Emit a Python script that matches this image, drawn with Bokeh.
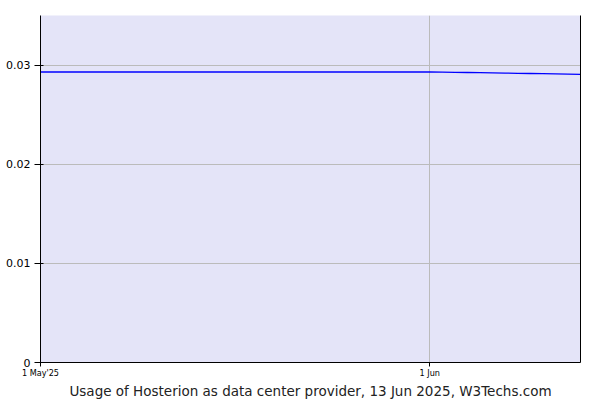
import datetime as dt
from bokeh.plotting import figure
from bokeh.models import FixedTicker, LinearAxis, Title, Range1d
from bokeh.embed import file_html
from bokeh.resources import INLINE

# data (share of websites, fraction)
dates = [dt.datetime(2025, 5, d) for d in range(1, 32)] + [dt.datetime(2025, 6, d) for d in range(1, 14)]
usage = [0.0293] * 31 + [0.0293, 0.02929, 0.02927, 0.02925, 0.02923, 0.02921, 0.02919,
                         0.02917, 0.02915, 0.02913, 0.02911, 0.02909, 0.02907]
y_ticks = [0, 0.01, 0.02, 0.03]
y_tick_labels = ["0", "0.01", "0.02", "0.03"]
x_tick_dates = [dt.datetime(2025, 5, 1), dt.datetime(2025, 6, 1)]
x_tick_labels = ["1 May'25", "1 Jun"]
title_text = "Usage of Hosterion as data center provider, 13 Jun 2025, W3Techs.com"

def ms(d):
    return (d - dt.datetime(1970, 1, 1)).total_seconds() * 1000.0

p = figure(width=600, height=400, output_backend="svg", toolbar_location=None,
           x_axis_type="datetime",
           x_range=Range1d(ms(dates[0]), ms(dates[-1])),
           y_range=Range1d(0, 0.035),
           min_border_left=40, min_border_right=20, min_border_top=15, min_border_bottom=38)
p.background_fill_color = "#e4e4f8"
p.border_fill_color = "white"
p.outline_line_color = None

p.line(dates, usage, line_color="#0000ff", line_width=1.3)

FONT = "DejaVu Sans"
xticks_ms = [ms(d) for d in x_tick_dates]

p.xaxis.ticker = FixedTicker(ticks=xticks_ms)
p.xaxis.major_label_overrides = {t: l for t, l in zip(xticks_ms, x_tick_labels)}
p.xaxis.major_label_text_font = "DejaVu Sans Condensed"
p.xaxis.major_label_text_font_size = "9px"
p.xaxis.major_label_text_color = "black"
p.xaxis.major_label_standoff = 1
p.xaxis.major_tick_out = 4
p.xaxis.major_tick_in = 0
p.xaxis.minor_tick_line_color = None
p.xaxis.axis_line_color = "black"
p.xaxis.major_tick_line_color = "black"

p.yaxis.ticker = FixedTicker(ticks=y_ticks)
p.yaxis.major_label_overrides = {t: l for t, l in zip(y_ticks, y_tick_labels)}
p.yaxis.major_label_text_font = FONT
p.yaxis.major_label_text_font_size = "11px"
p.yaxis.major_label_text_color = "black"
p.yaxis.major_label_standoff = 4
p.yaxis.major_tick_out = 6
p.yaxis.major_tick_in = 3
p.yaxis.minor_tick_line_color = None
p.yaxis.axis_line_color = "black"
p.yaxis.major_tick_line_color = "black"

p.xgrid.ticker = FixedTicker(ticks=xticks_ms[1:])
p.xgrid.grid_line_color = "#bbbbbb"
p.ygrid.ticker = FixedTicker(ticks=y_ticks[1:])
p.ygrid.grid_line_color = "#bbbbbb"

right = LinearAxis(ticker=FixedTicker(ticks=[]), major_label_text_font_size="0px",
                   axis_line_color="black", major_tick_line_color=None, minor_tick_line_color=None)
p.add_layout(right, "right")

t = Title(text=title_text, text_font=FONT, text_font_size="13.5px", text_font_style="normal",
          align="center", standoff=0, offset=0, text_color="#222222")
p.add_layout(t, "below")

open("out.html", "w").write(file_html(p, INLINE))
